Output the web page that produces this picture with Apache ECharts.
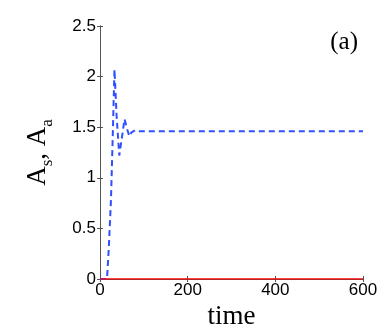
<!DOCTYPE html>
<html>
<head>
<meta charset="utf-8">
<script src="https://cdn.jsdelivr.net/npm/echarts@6/dist/echarts.min.js"></script>
<style>
  html, body { margin: 0; padding: 0; background: #fff; }
  #chart { width: 382px; height: 327px; }
</style>
</head>
<body>
<div id="chart"></div>
<script>
// values
const timeA = [0, 10, 16, 20, 25, 29, 33, 38, 44, 50, 56, 62, 67, 72, 80, 90, 200, 400, 600];
const valuesA = [0, 0, 0, 0.3, 0.78, 1.4, 2.07, 1.6, 1.22, 1.4, 1.58, 1.48, 1.41, 1.45, 1.47, 1.46, 1.46, 1.46, 1.46];
const timeS = [0, 600];
const valuesS = [0, 0];
const xTicks = [0, 200, 400, 600];
const yTicks = [0, 0.5, 1, 1.5, 2, 2.5];

const pairs = (xs, ys) => xs.map((x, i) => [x, ys[i]]);

const chart = echarts.init(document.getElementById("chart"));
const tickLabel = { fontSize: 17, color: "#000", fontFamily: "Liberation Sans" };
const frameLine = { lineStyle: { color: "#555", width: 1 } };
const innerTick = { inside: true, length: 3, lineStyle: { color: "#555" } };

chart.setOption({
  animation: false,
  grid: { left: 100, right: 19, top: 26, bottom: 48, outerBoundsMode: "none" },
  graphic: [
    { type: "text", right: 24, top: 30, style: { text: "(a)", font: "25px 'Liberation Serif'", fill: "#000" } },
  ],
  xAxis: [
    {
      type: "value", min: xTicks[0], max: xTicks[xTicks.length - 1], interval: 200,
      name: "time", nameLocation: "middle", nameGap: 18,
      nameTextStyle: { fontSize: 27, fontFamily: "Liberation Serif", color: "#000" },
      axisLine: frameLine, axisTick: innerTick,
      axisLabel: { ...tickLabel, margin: 3 },
      splitLine: { show: false },
    },
    {
      type: "value", position: "top", min: 0, max: 600, interval: 200,
      axisLine: frameLine, axisTick: innerTick,
      axisLabel: { show: false }, splitLine: { show: false },
    },
  ],
  yAxis: [
    {
      type: "value", min: yTicks[0], max: yTicks[yTicks.length - 1], interval: 0.5,
      name: "{a|A}{s|s}{a|, A}{s|a}", nameLocation: "middle", nameGap: 44, nameRotate: 90,
      nameTextStyle: {
        color: "#000",
        rich: {
          a: { fontSize: 27, fontFamily: "Liberation Serif", color: "#000" },
          s: { fontSize: 17, fontFamily: "Liberation Serif", color: "#000", padding: [20, 0, 0, 0] },
        },
      },
      axisLine: frameLine, axisTick: innerTick,
      axisLabel: { ...tickLabel, margin: 4 },
      splitLine: { show: false },
    },
    {
      type: "value", position: "right", min: 0, max: 2.5, interval: 0.5,
      axisLine: frameLine, axisTick: innerTick,
      axisLabel: { show: false }, splitLine: { show: false },
    },
  ],
  series: [
    {
      name: "A_a", type: "line", data: pairs(timeA, valuesA), showSymbol: false,
      lineStyle: { color: "#3050ff", width: 2, type: [6, 4] },
    },
    {
      name: "A_s", type: "line", data: pairs(timeS, valuesS), showSymbol: false,
      lineStyle: { color: "#ff0000", width: 1.5 },
    },
  ],
});
</script>
</body>
</html>
